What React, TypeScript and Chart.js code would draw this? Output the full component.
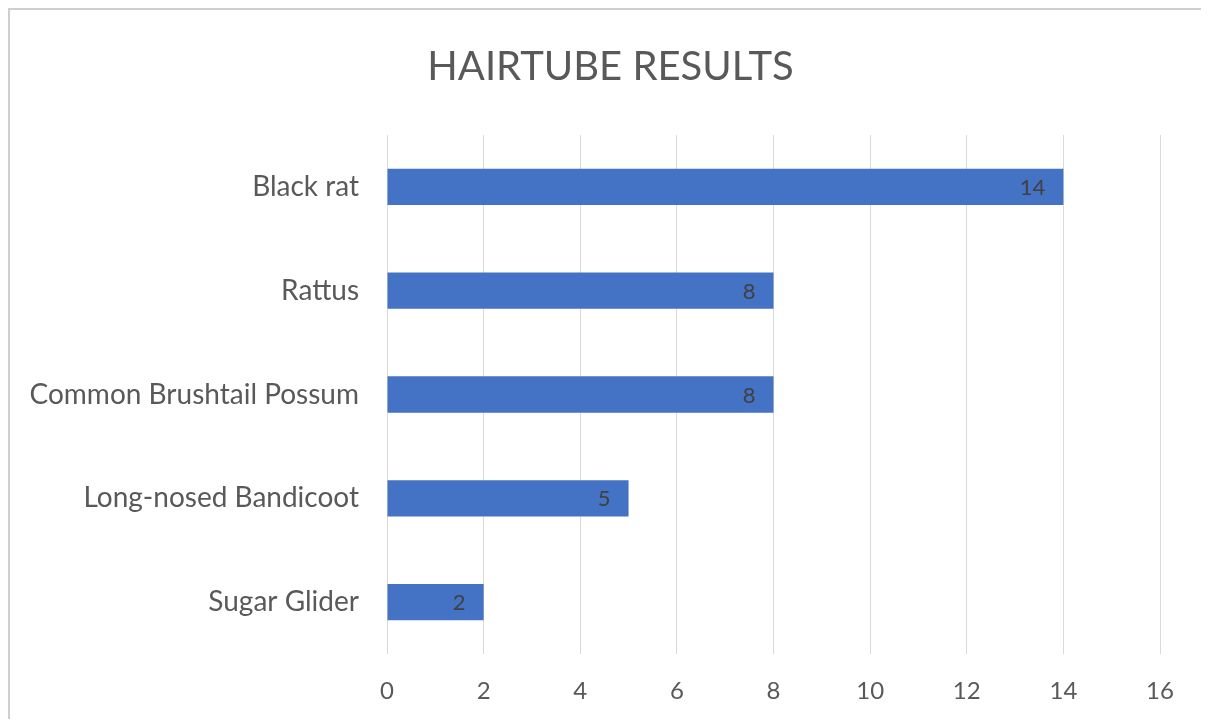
import React, { useEffect, useRef } from "react";
import { Chart, registerables } from "chart.js";

Chart.register(...registerables);

const categories = ["Black rat", "Rattus", "Common Brushtail Possum", "Long-nosed Bandicoot", "Sugar Glider"];
const values = [14, 8, 8, 5, 2];
const titleText = "HAIRTUBE RESULTS";
const xMin = 0;
const xMax = 16;
const xStep = 2;

const FONT = "Lato, 'Open Sans', sans-serif";

const titlePlugin = {
  id: "centeredTitle",
  afterDraw(chart: any) {
    const ctx = chart.ctx;
    ctx.save();
    ctx.font = `40px ${FONT}`;
    ctx.fillStyle = "#595959";
    ctx.textAlign = "center";
    ctx.textBaseline = "middle";
    ctx.fillText(titleText, chart.width / 2 + 1, 57);
    ctx.restore();
  },
};

const dataLabelPlugin = {
  id: "dataLabels",
  afterDatasetsDraw(chart: any) {
    const ctx = chart.ctx;
    const meta = chart.getDatasetMeta(0);
    ctx.save();
    ctx.font = `22px ${FONT}`;
    ctx.fillStyle = "#404040";
    ctx.textAlign = "right";
    ctx.textBaseline = "middle";
    meta.data.forEach((bar: any, i: number) => {
      ctx.fillText(String(chart.data.datasets[0].data[i]), bar.x - 18, bar.y + 1);
    });
    ctx.restore();
  },
};

export default function App() {
  const ref = useRef<HTMLCanvasElement | null>(null);
  useEffect(() => {
    const chart = new Chart(ref.current as HTMLCanvasElement, {
      type: "bar",
      data: {
        labels: categories,
        datasets: [
          {
            data: values,
            backgroundColor: "#4472C4",
            borderWidth: 0,
            categoryPercentage: 1,
            barPercentage: 0.35,
          },
        ],
      },
      options: {
        indexAxis: "y",
        animation: false,
        responsive: false,
        maintainAspectRatio: false,
        layout: { padding: { left: 0, right: 49, top: 125, bottom: 0 } },
        plugins: {
          legend: { display: false },
          tooltip: { enabled: false },
          title: { display: false },
        },
        scales: {
          x: {
            min: xMin,
            max: xMax,
            ticks: {
              stepSize: xStep,
              color: "#595959",
              font: { family: FONT, size: 24 },
              padding: 23,
            },
            grid: { color: "#d9d9d9", drawTicks: false, lineWidth: 1 },
            border: { display: false },
            afterFit(scale: any) {
              scale.height = 65;
            },
          },
          y: {
            ticks: {
              color: "#595959",
              font: { family: FONT, size: 28 },
              padding: 28,
            },
            grid: { display: false, drawTicks: false },
            border: { display: false },
            afterFit(scale: any) {
              scale.width = 377;
            },
          },
        },
      },
      plugins: [dataLabelPlugin, titlePlugin],
    } as any);
    return () => chart.destroy();
  }, []);

  return (
    <div
      style={{
        width: 1199,
        height: 709,
        borderTop: "2px solid #cfcfcf",
        borderLeft: "2px solid #cfcfcf",
        background: "#ffffff",
      }}
    >
      <canvas ref={ref} width={1199} height={709} style={{ display: "block" }} />
    </div>
  );
}
